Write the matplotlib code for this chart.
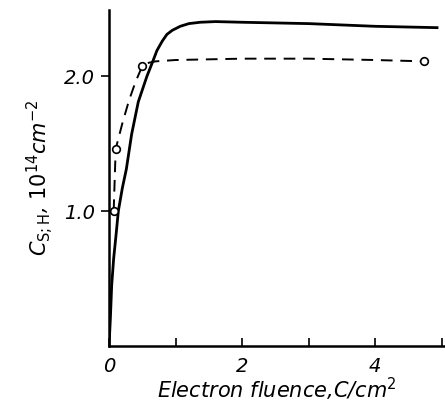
import numpy as np
import matplotlib.pyplot as plt
from matplotlib import rcParams

rcParams['font.family'] = ['DejaVu Sans']
rcParams['mathtext.default'] = 'it'

# 实线 (solid curve)
solid_x = [0.0, 0.02, 0.04, 0.07, 0.105, 0.14, 0.2, 0.26, 0.34, 0.44, 0.57, 0.65, 0.72,
           0.8, 0.87, 0.95, 1.07, 1.2, 1.37, 1.6, 2.0, 3.0, 4.0, 4.93]
solid_y = [0.0, 0.2, 0.45, 0.65, 0.82, 1.0, 1.17, 1.31, 1.57, 1.81, 2.0, 2.1, 2.19,
           2.26, 2.31, 2.34, 2.37, 2.39, 2.40, 2.405, 2.40, 2.39, 2.37, 2.36]

# 虚线 (dashed curve)
dash_x = [0.07, 0.1, 0.2, 0.3, 0.4, 0.5, 0.6, 0.7, 0.85, 1.0, 2.0, 3.0, 4.0, 4.74]
dash_y = [1.0, 1.46, 1.65, 1.82, 1.96, 2.075, 2.1, 2.11, 2.115, 2.12, 2.13, 2.13, 2.12, 2.11]

# 数据点 (open circles)
pts_x = [0.07, 0.1, 0.5, 4.74]
pts_y = [1.0, 1.46, 2.075, 2.11]

fig = plt.figure(figsize=(4.45, 4.05), dpi=100)
ax = fig.add_axes([0.245, 0.146, 0.755, 0.829])

ax.plot(solid_x, solid_y, color='black', linestyle='-', linewidth=2.0)
ax.plot(dash_x, dash_y, color='black', linestyle=(0, (6, 4)), linewidth=1.4)
ax.plot(pts_x, pts_y, linestyle='none', marker='o', markersize=5.5,
        markerfacecolor='white', markeredgecolor='black', markeredgewidth=1.2)

ax.set_xlim(0, 5.05)
ax.set_ylim(0, 2.49)

ax.set_xticks([0, 2, 4])
ax.set_xticklabels(['0', '2', '4'], fontstyle='italic', fontsize=14)
ax.set_xticks([1, 3, 5], minor=True)
ax.set_yticks([1.0, 2.0])
ax.set_yticklabels(['1.0', '2.0'], fontstyle='italic', fontsize=14)

ax.tick_params(axis='x', which='both', direction='in', length=6, width=1.2, pad=8)
ax.tick_params(axis='y', which='both', direction='out', length=6, width=1.2, pad=4)

for s in ['top', 'right']:
    ax.spines[s].set_visible(False)
for s in ['left', 'bottom']:
    ax.spines[s].set_linewidth(1.8)

ax.set_xlabel('Electron fluence,C/cm$^2$', fontstyle='italic', fontsize=15, labelpad=0)
ax.set_ylabel(r'$C_{\mathrm{S;H}}$, $10^{14}$cm$^{-2}$', fontstyle='italic', fontsize=15,
              labelpad=6)

plt.savefig('out.png', dpi=100)
